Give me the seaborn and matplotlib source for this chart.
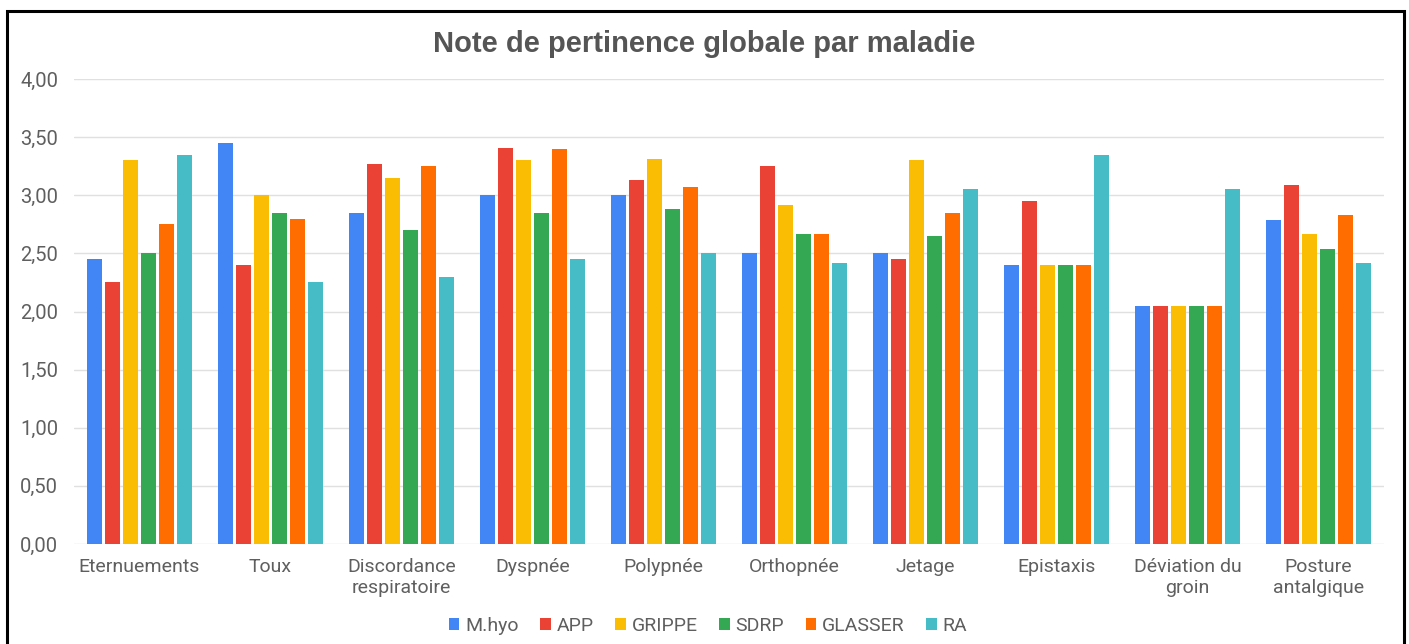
import seaborn as sns
import pandas as pd
import matplotlib.pyplot as plt
import matplotlib.patches as mpatches
from matplotlib.ticker import FuncFormatter

categories = ['Eternuements', 'Toux', 'Discordance\nrespiratoire', 'Dyspnée', 'Polypnée',
              'Orthopnée', 'Jetage', 'Epistaxis', 'Déviation du\ngroin', 'Posture\nantalgique']
series = ['M.hyo', 'APP', 'GRIPPE', 'SDRP', 'GLASSER', 'RA']

mhyo = [2.45, 3.45, 2.85, 3.00, 3.00, 2.50, 2.50, 2.40, 2.05, 2.79]
app = [2.25, 2.40, 3.27, 3.41, 3.13, 3.25, 2.45, 2.95, 2.05, 3.09]
grippe = [3.30, 3.00, 3.15, 3.30, 3.31, 2.92, 3.30, 2.40, 2.05, 2.67]
sdrp = [2.50, 2.85, 2.70, 2.85, 2.88, 2.67, 2.65, 2.40, 2.05, 2.54]
glasser = [2.75, 2.80, 3.25, 3.40, 3.07, 2.67, 2.85, 2.40, 2.05, 2.83]
ra = [3.35, 2.25, 2.30, 2.45, 2.50, 2.42, 3.05, 3.35, 3.05, 2.42]

colors = ['#4285F4', '#EA4335', '#FBBC04', '#34A853', '#FF6D01', '#46BDC6']

rows = []
for name, vals in zip(series, [mhyo, app, grippe, sdrp, glasser, ra]):
    for cat, v in zip(categories, vals):
        rows.append({'maladie': cat, 'note': v, 'serie': name})
df = pd.DataFrame(rows)

sns.set_style('white')
plt.rcParams['font.family'] = ['Roboto', 'DejaVu Sans']
text_col = '#5f5f5f'

fig = plt.figure(figsize=(14.09, 6.44), dpi=100)
ax = fig.add_axes([74 / 1409, 1 - 544 / 644, 1310 / 1409, 465 / 644])

sns.barplot(data=df, x='maladie', y='note', hue='serie', palette=colors,
            saturation=1, width=0.82, gap=0.18, linewidth=0, ax=ax)

ax.set_ylim(0, 4)
ax.set_xlim(-0.5, len(categories) - 0.5)
ax.set_yticks([0, 0.5, 1, 1.5, 2, 2.5, 3, 3.5, 4])
ax.yaxis.set_major_formatter(FuncFormatter(lambda v, p: f'{v:.2f}'.replace('.', ',')))
ax.grid(axis='y', color='#e0e0e0', linewidth=1)
ax.set_axisbelow(True)
for s in ax.spines.values():
    s.set_visible(False)
ax.tick_params(axis='y', length=0, pad=11.5, labelsize=14.5, labelcolor=text_col)
ax.tick_params(axis='x', length=0, pad=10, labelsize=14, labelcolor=text_col)
ax.set_xlabel('')
ax.set_ylabel('')

handles, labels = ax.get_legend_handles_labels()
ax.get_legend().remove()
fig.legend(handles, labels, loc='center', bbox_to_anchor=(708 / 1409, 1 - 626 / 644),
           ncol=6, frameon=False, fontsize=14, labelcolor=text_col,
           handlelength=0.55, handleheight=0.55, handletextpad=0.3, columnspacing=1.1)

fig.text(704 / 1409, 1 - 44 / 644, 'Note de pertinence globale par maladie',
         ha='center', va='center', fontsize=21, fontweight='bold',
         color='#555555', family=['Liberation Sans', 'DejaVu Sans'])

border = mpatches.Rectangle((6.5 / 1409, -0.05), 1397 / 1409, 1.05 - 10.5 / 644,
                            transform=fig.transFigure, fill=False,
                            edgecolor='black', linewidth=2.2)
fig.add_artist(border)

fig.savefig('out.png', dpi=100, facecolor='white')
